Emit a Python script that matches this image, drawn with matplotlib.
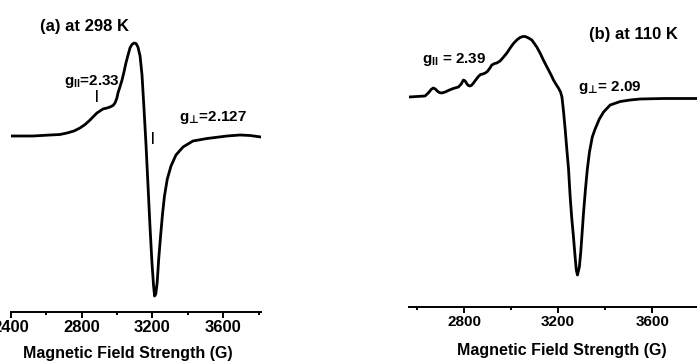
import numpy as np
import matplotlib
matplotlib.use("Agg")
import matplotlib.pyplot as plt

plt.rcParams['font.family'] = ['Liberation Sans', 'DejaVu Sans']
plt.rcParams['font.weight'] = 'bold'
plt.rcParams['mathtext.fontset'] = 'custom'
plt.rcParams['mathtext.rm'] = 'Liberation Sans:bold'
plt.rcParams['mathtext.it'] = 'Liberation Sans:bold'
plt.rcParams['mathtext.bf'] = 'Liberation Sans:bold'
plt.rcParams['mathtext.sf'] = 'DejaVu Sans:bold'

# (a) 298 K spectrum: field (G) and signal (arb. units)
field_a = [2400, 2524, 2621, 2677, 2717, 2756, 2790, 2819, 2847, 2869,
           2886, 2903, 2920, 2943, 2960, 2977, 2988, 2999, 3005, 3016,
           3028, 3039, 3050, 3062, 3073, 3084, 3096, 3107, 3118, 3130,
           3141, 3152, 3164, 3175, 3186, 3197, 3206, 3212, 3219, 3227,
           3235, 3246, 3257, 3268, 3284, 3305, 3333, 3373, 3429, 3509,
           3622, 3695, 3752, 3814]
signal_a = [0, 0, 1, 1.5, 3, 5, 8, 11.5, 16, 20,
            23, 25, 27, 28, 29, 30.5, 33, 38, 43, 49,
            56, 64, 73, 81, 88, 91.5, 93, 92.5, 89, 80,
            61, 28, -10, -50, -90, -126, -149, -160, -158, -146,
            -124, -100, -78, -60, -43, -30, -19, -11, -5, -2.5,
            0, 1, 0.5, -1]

# (b) 110 K spectrum
field_b = [2567, 2634, 2648, 2660, 2669, 2678, 2686, 2695, 2705, 2720,
           2733, 2754, 2776, 2788, 2797, 2805, 2811, 2818, 2826, 2833,
           2840, 2851, 2861, 2870, 2880, 2890, 2899, 2910, 2918, 2930,
           2939, 2953, 2968, 2982, 2996, 3010, 3024, 3038, 3050, 3060,
           3074, 3088, 3100, 3109, 3123, 3137, 3148, 3159, 3170, 3180,
           3190, 3201, 3210, 3216, 3223, 3230, 3237, 3244, 3251, 3258,
           3265, 3272, 3277, 3282, 3290, 3296, 3302, 3308, 3316, 3324,
           3333, 3345, 3357, 3375, 3393, 3421, 3464, 3506, 3549, 3647,
           3790]
signal_b = [0, 1, 4, 7.5, 9, 8, 6, 4.5, 4, 5,
            6.5, 8.5, 10, 13, 17, 16, 13.5, 11.5, 11, 12,
            14, 17.5, 20.5, 22.5, 23, 24, 25.5, 29, 32, 33.5,
            34, 36, 40, 44, 49, 53.5, 57, 59.5, 60.5, 60.5,
            59, 57, 53, 50, 44, 37, 32, 27, 22, 17,
            13, 9, 5, 0, -15, -33, -53, -72, -100, -122,
            -140, -160, -173, -178, -170, -155, -135, -115, -92, -72,
            -55, -40, -32, -22, -15, -8, -4.5, -3, -2, -1.5,
            -1.5]

ticks_major = [2400, 2800, 3200, 3600]
ticks_minor = [2600, 3000, 3400, 3800]
xlabel = "Magnetic Field Strength (G)"

fig = plt.figure(figsize=(6.97, 3.62), dpi=100)
W, H = 697.0, 362.0


def make_axes(left, right, top, bottom):
    return fig.add_axes([left / W, 1 - bottom / H, (right - left) / W, (bottom - top) / H])


def style(ax, tick_size, xlim):
    for s in ['left', 'right', 'top']:
        ax.spines[s].set_visible(False)
    ax.spines['bottom'].set_linewidth(1.4)
    ax.set_yticks([])
    ax.set_xticks(ticks_major)
    ax.set_xticks(ticks_minor, minor=True)
    ax.set_xlim(*xlim)  # after set_xticks, which would widen the limits
    ax.tick_params(axis='x', which='major', direction='out', length=4, width=1.4,
                   pad=2, labelsize=tick_size)
    ax.tick_params(axis='x', which='minor', direction='out', length=2.5, width=1.4)
    for lab in ax.get_xticklabels():
        lab.set_fontweight('bold')


# panel (a)
ax1 = make_axes(11, 261, 10, 312)
ax1.plot(field_a, signal_a, color='black', lw=2.0)
ax1.set_ylim(-176, 126)
style(ax1, 12, (2400, 3814))
ax1.set_xlabel(xlabel, fontsize=11.5, fontweight='bold', va='center')
ax1.xaxis.set_label_coords(0.468, -0.136)
ax1.text(2813, 109, "(a) at 298 K", fontsize=12, fontweight='bold', ha='center', va='center')
ax1.text(2855, 54, r"g$_{\mathrm{II}}$=2.33", fontsize=11, fontweight='bold', ha='center', va='center')
ax1.text(3543, 19, r"g$_{\mathsf{⊥}}$=2.127", fontsize=11, fontweight='bold', ha='center', va='center')
ax1.text(2886, 40, "|", fontsize=9, fontweight='bold', ha='center', va='center')
ax1.text(3203, -2, "|", fontsize=9, fontweight='bold', ha='center', va='center')

# panel (b)
ax2 = make_axes(409, 697, 10, 307)
ax2.plot(field_b, signal_b, color='black', lw=2.0)
ax2.set_ylim(-210, 87)
style(ax2, 11, (2566, 3790))
ax2.set_xlabel(xlabel, fontsize=11.5, fontweight='bold', va='center')
ax2.xaxis.set_label_coords(0.530, -0.145)
ax2.text(3519, 63, "(b) at 110 K", fontsize=12, fontweight='bold', ha='center', va='center')
ax2.text(2757, 37, r"g$_{\mathrm{II}}$ = 2.39", fontsize=11, fontweight='bold', ha='center', va='center')
ax2.text(3421, 9, r"g$_{\mathsf{⊥}}$= 2.09", fontsize=11, fontweight='bold', ha='center', va='center')

fig.savefig("out.png", dpi=100)
